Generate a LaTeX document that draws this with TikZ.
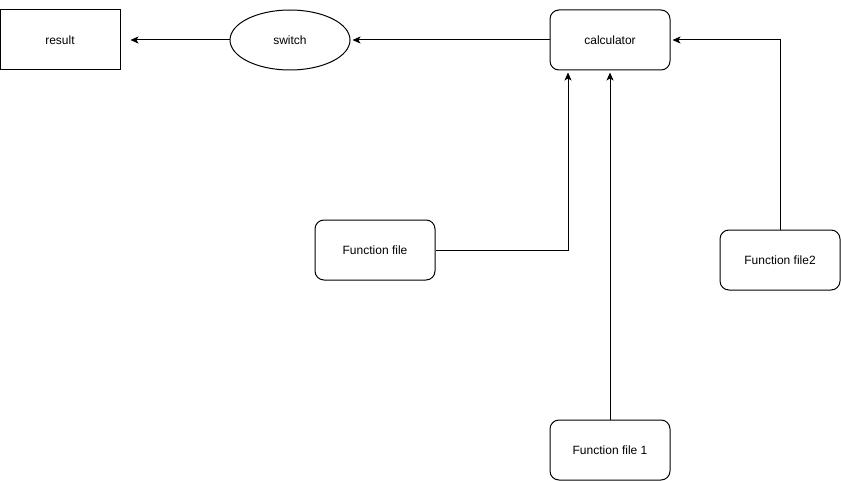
\documentclass[tikz,border=0pt]{standalone}
\usepackage{fontspec}
\setmainfont{Liberation Sans}
\usetikzlibrary{shapes.geometric,arrows.meta}
\begin{document}
\begin{tikzpicture}[x=0.75pt,y=-0.75pt,
  every node/.style={font=\fontsize{9pt}{11pt}\selectfont, inner sep=0pt, line width=0.75pt},
  box/.style={draw, rectangle, minimum width=90pt, minimum height=45pt},
  rbox/.style={box, rounded corners=6.75pt},
  oval/.style={draw, ellipse, minimum width=90pt, minimum height=45pt},
  link/.style={line width=0.75pt, -{Stealth[length=6pt,width=5.25pt,inset=1.5pt]}, shorten >=1.5pt}
]
\useasboundingbox (0,0) rectangle (841,481);

\node[box]  (result) at (60,40)  {result};
\node[oval] (switch) at (290,40) {switch};
\node[rbox] (calc)   at (610,40) {calculator};
\node[rbox] (ff)     at (375,250) {Function file};
\node[rbox] (ff2)    at (780,260) {Function file2};
\node[rbox] (ff1)    at (610,450) {Function file 1};

\draw[link, shorten >=7.5pt] (switch.west) -- (result.east);
\draw[link] (calc.west) -- (switch.east);
\draw[link] (ff.east) -| ([xshift=-31.5pt]calc.south);
\draw[link] (ff1.north) -- (calc.south);
\draw[link] (ff2.north) |- (calc.east);
\end{tikzpicture}
\end{document}
